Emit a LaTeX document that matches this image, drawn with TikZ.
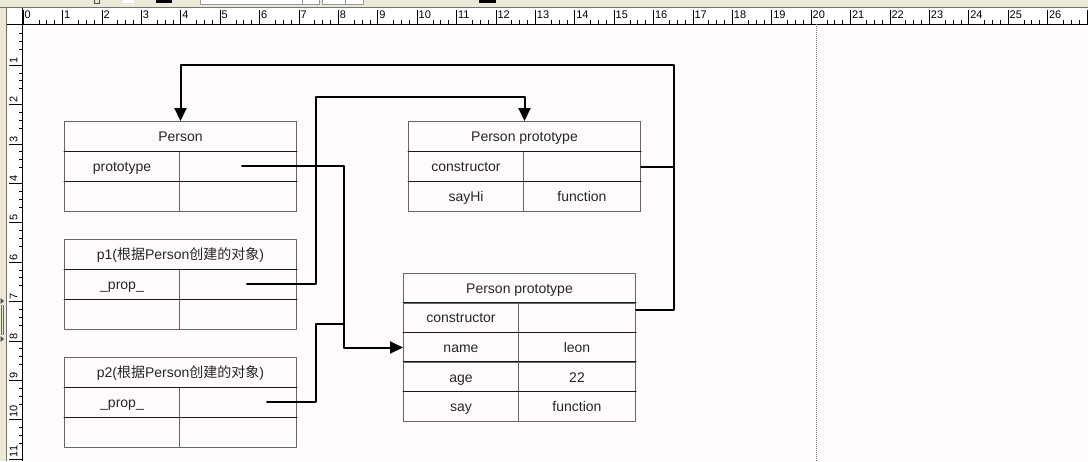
\documentclass[tikz,border=0pt]{standalone}
\usepackage{fontspec}
\setmainfont{Liberation Sans}
\newfontfamily\cjk{Noto Sans CJK SC}
\usepackage{tikz}
\usetikzlibrary{shapes,arrows,arrows.meta}
\usetikzlibrary{calc}
\definecolor{canvas}{RGB}{255,251,255}
\definecolor{panel}{RGB}{236,233,216}
\tikzset{
  cell/.style={draw=black!60, line width=1pt, minimum height=30pt, inner sep=0pt,
    text height=12pt, text depth=2pt,
    font=\fontsize{14}{16}\selectfont, text=black!85, anchor=north west},
  head/.style={cell, minimum width=232pt},
  keycell/.style={cell, minimum width=115pt},
  valcell/.style={cell, minimum width=117pt},
  rowline/.style={black!90, line width=1pt},
  link/.style={black, line width=2pt},
  rulenum/.style={font=\fontsize{11}{11}\selectfont, inner sep=0pt}
}

\begin{document}
\begin{tikzpicture}[line cap=round,line join=round,>={Triangle[length=13pt,width=12pt]},x=1pt,y=-1pt]
			\useasboundingbox (0,0) rectangle (1088,461);
			\fill[canvas] (0,0) rectangle (1088,461);
			% rulers
			\fill[white] (7,8) rectangle (1088,24);
			\fill[white] (7,24) rectangle (22,461);
			\fill[panel] (0,0) rectangle (1088,7);
			\fill[panel] (0,0) rectangle (6,461);
			\draw[black!55] (0,7.5) -- (1088,7.5);
			\draw[black!55] (6.5,7.5) -- (6.5,461);
			\draw[black,line cap=butt] (7,24) -- (1088,24);
			\draw[black,line cap=butt] (22,8) -- (22,461);
			\foreach \k in {0,...,27} {
				\draw[line cap=butt] (23+39.4*\k,10) -- (23+39.4*\k,24);
				\foreach \j in {2,3,4}
					\draw[line cap=butt] (23+39.4*\k+7.88*\j,20) -- (23+39.4*\k+7.88*\j,24);
			}
			\foreach \k in {0,...,26}
				\node[rulenum,anchor=north west] (tn\k) at (24.5+39.4*\k,11) {\k};
			\foreach \k in {1,...,11} {
				\draw[line cap=butt] (9,25.5+39.4*\k) -- (22,25.5+39.4*\k);
				\node[rulenum,rotate=90,anchor=north west] (ln\k) at (9.5,24+39.4*\k) {\k};
			}
			\foreach \k in {0,...,10}
				\foreach \j in {1,2,3}
					\draw[line cap=butt] (19,25.5+39.4*\k+7.88*\j) -- (22,25.5+39.4*\k+7.88*\j);
			% toolbar and splitter remains
			\draw[black!70] (94,-2) rectangle (99,3);
			\fill[white] (123,0) rectangle (134,2.5);
			\fill[black] (156,0) rectangle (172,2.5);
			\draw[black!40,fill=white] (200,-2) rectangle (319,4);
			\draw[black!40] (302,-2) rectangle (319,4);
			\draw[black!40,fill=white] (322,-2) rectangle (363,4);
			\draw[black!40] (345,-2) rectangle (363,4);
			\fill[black] (479,0) rectangle (496,2.5);
			\fill[black!70] (0.5,298) -- (4,301) -- (0.5,304) -- cycle;
			\fill[black!70] (0.5,336) -- (4,339) -- (0.5,342) -- cycle;
			\draw[black!60,line cap=butt] (1.5,305) -- (1.5,335);
			\draw[black!60,line cap=butt] (3.5,305) -- (3.5,335);
			\draw[black!50,dash pattern=on 1pt off 1pt,line cap=butt] (816,24) -- (816,461);
			% Person
			\node[head] (p-head) at (64,121) {Person};
			\node[keycell] (p-k1) at (64,151) {prototype};
			\node[valcell] (p-v1) at (179,151) {};
			\node[keycell] (p-k2) at (64,181) {};
			\node[valcell] (p-v2) at (179,181) {};
			\draw[rowline] (p-k1.north west) -- (p-v1.north east);
			\draw[rowline] (p-k2.north west) -- (p-v2.north east);
			% p1
			\node[head] (q-head) at (64,239) {p1({\cjk 根据}Person{\cjk 创建的对象})};
			\node[keycell] (q-k1) at (64,269) {\_prop\_};
			\node[valcell] (q-v1) at (179,269) {};
			\node[keycell] (q-k2) at (64,299) {};
			\node[valcell] (q-v2) at (179,299) {};
			\draw[rowline] (q-k1.north west) -- (q-v1.north east);
			\draw[rowline] (q-k2.north west) -- (q-v2.north east);
			% p2
			\node[head] (r-head) at (64,357) {p2({\cjk 根据}Person{\cjk 创建的对象})};
			\node[keycell] (r-k1) at (64,387) {\_prop\_};
			\node[valcell] (r-v1) at (179,387) {};
			\node[keycell] (r-k2) at (64,417) {};
			\node[valcell] (r-v2) at (179,417) {};
			\draw[rowline] (r-k1.north west) -- (r-v1.north east);
			\draw[rowline] (r-k2.north west) -- (r-v2.north east);
			% Person prototype (top)
			\node[head] (a-head) at (408,121) {Person prototype};
			\node[keycell] (a-k1) at (408,151) {constructor};
			\node[valcell] (a-v1) at (523,151) {};
			\node[keycell] (a-k2) at (408,181) {sayHi};
			\node[valcell] (a-v2) at (523,181) {function};
			\draw[rowline] (a-k1.north west) -- (a-v1.north east);
			\draw[rowline] (a-k2.north west) -- (a-v2.north east);
			% Person prototype (bottom)
			\node[head,minimum height=29.6pt] (b-head) at (403,273) {Person prototype};
			\node[keycell,minimum height=29.6pt] (b-k1) at (403,302.6) {constructor};
			\node[valcell,minimum height=29.6pt] (b-v1) at (518,302.6) {};
			\node[keycell,minimum height=29.6pt] (b-k2) at (403,332.2) {name};
			\node[valcell,minimum height=29.6pt] (b-v2) at (518,332.2) {leon};
			\node[keycell,minimum height=29.6pt] (b-k3) at (403,361.8) {age};
			\node[valcell,minimum height=29.6pt] (b-v3) at (518,361.8) {22};
			\node[keycell,minimum height=29.6pt] (b-k4) at (403,391.4) {say};
			\node[valcell,minimum height=29.6pt] (b-v4) at (518,391.4) {function};
			\draw[rowline] (b-k1.north west) -- (b-v1.north east);
			\draw[rowline] (b-k2.north west) -- (b-v2.north east);
			\draw[rowline] (b-k3.north west) -- (b-v3.north east);
			\draw[rowline] (b-k4.north west) -- (b-v4.north east);
			% links
			\coordinate (p-s) at (242,166);
			\coordinate (q-s) at (247,284);
			\coordinate (r-s) at (267,402);
			\draw[link,->] (p-s) -- (344,166) |- (b-k2.west);
			\draw[link,->] (q-s) -| (316,97) -| (a-head.north);
			\draw[link] (r-s) -| (316,324) -- (344,324);
			\draw[link,->] (a-v1.east) -| (674,65) -| (p-head.north);
			\draw[link] ([yshift=8pt]b-v1.east) -| (674,166);
			\end{tikzpicture}
\end{document}
